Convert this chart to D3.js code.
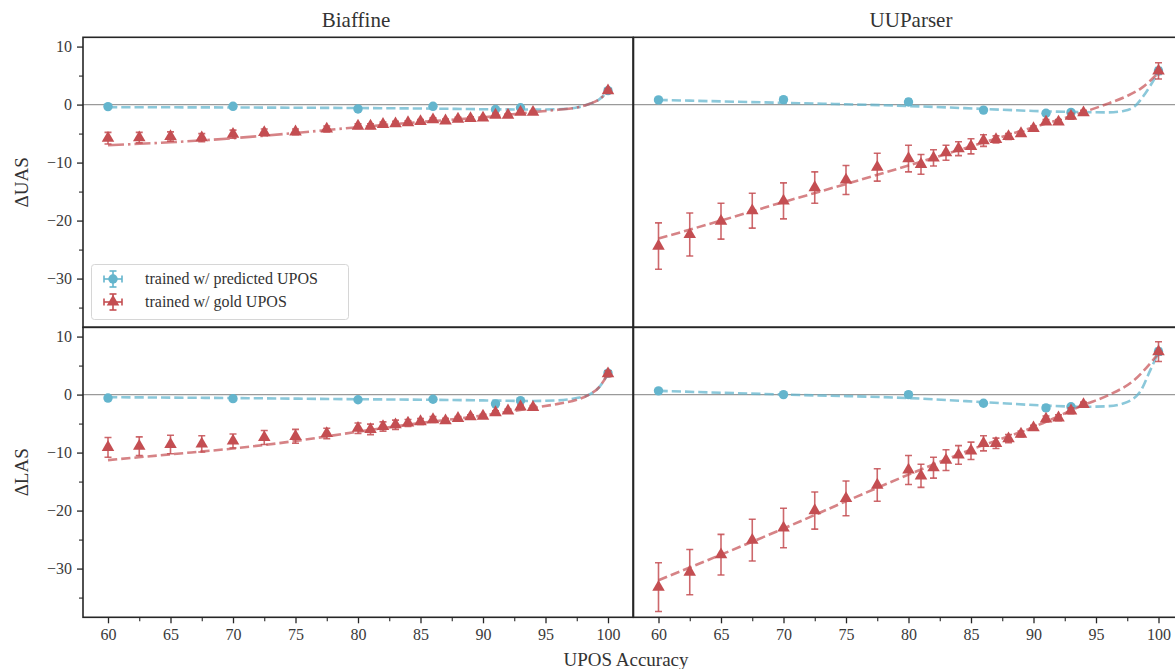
<!DOCTYPE html>
<html><head><meta charset="utf-8">
<script src="https://cdn.jsdelivr.net/npm/d3@7"></script>
<style>
html,body{margin:0;padding:0;background:#fff;}
svg{display:block;font-family:"Liberation Serif","DejaVu Serif",serif;}
</style></head>
<body><svg id="chart" width="1175" height="669"></svg>
<script>
// ---------------- data ----------------
const parsers = ["Biaffine", "UUParser"];
const metrics = ["ΔUAS", "ΔLAS"];
const xTicks = [60, 65, 70, 75, 80, 85, 90, 95, 100];
const yTicks = [10, 0, -10, -20, -30];

const xPred = [60, 70, 80, 86, 91, 93, 100];
const xGold = [60, 62.5, 65, 67.5, 70, 72.5, 75, 77.5, 80, 81, 82, 83, 84, 85, 86, 87, 88, 89, 90, 91, 92, 93, 94, 100];

// Biaffine UAS
const biaUasPred    = [-0.35, -0.3, -0.75, -0.3, -0.85, -0.55, 2.4];
const biaUasPredErr = [0.15, 0.15, 0.2, 0.15, 0.3, 0.2, 0.3];
const biaUasGold    = [-5.8, -5.7, -5.5, -5.7, -5.1, -4.8, -4.7, -4.2, -3.7, -3.7, -3.4, -3.3, -3.1, -2.9, -2.6, -2.8, -2.5, -2.4, -2.3, -1.8, -1.8, -1.3, -1.3, 2.4];
const biaUasGoldErr = [1.0, 0.9, 0.8, 0.7, 0.7, 0.6, 0.5, 0.5, 0.4, 0.4, 0.4, 0.4, 0.3, 0.3, 0.3, 0.3, 0.3, 0.3, 0.2, 0.3, 0.2, 0.2, 0.2, 0.3];
// UUParser UAS
const uuUasPred    = [0.8, 0.85, 0.45, -0.95, -1.5, -1.35, 5.8];
const uuUasPredErr = [0.2, 0.2, 0.5, 0.2, 0.3, 0.3, 0.6];
const uuUasGold    = [-24.4, -22.4, -20.1, -18.3, -16.6, -14.3, -13.0, -10.8, -9.3, -10.3, -9.2, -8.3, -7.6, -7.2, -6.2, -6.0, -5.5, -5.0, -4.1, -3.0, -3.0, -2.0, -1.4, 5.8];
const uuUasGoldErr = [4.0, 3.7, 3.1, 3.0, 3.1, 2.7, 2.5, 2.4, 2.3, 1.7, 1.4, 1.3, 1.2, 1.3, 1.0, 0.6, 0.5, 0.4, 0.4, 0.4, 0.4, 0.5, 0.4, 1.4];
// Biaffine LAS
const biaLasPred    = [-0.6, -0.7, -0.9, -0.8, -1.6, -1.05, 3.7];
const biaLasPredErr = [0.15, 0.15, 0.2, 0.15, 0.3, 0.2, 0.4];
const biaLasGold    = [-9.1, -8.9, -8.6, -8.5, -8.0, -7.4, -7.2, -6.7, -5.8, -6.0, -5.5, -5.2, -4.9, -4.65, -4.3, -4.5, -4.1, -3.8, -3.7, -3.1, -2.8, -2.1, -2.2, 3.6];
const biaLasGoldErr = [1.7, 1.6, 1.6, 1.4, 1.2, 1.2, 1.2, 0.9, 0.9, 0.9, 0.8, 0.8, 0.6, 0.5, 0.5, 0.4, 0.3, 0.3, 0.3, 0.3, 0.3, 0.3, 0.3, 0.5];
// UUParser LAS
const uuLasPred    = [0.64, 0.0, 0.0, -1.5, -2.3, -2.1, 7.4];
const uuLasPredErr = [0.2, 0.2, 0.5, 0.3, 0.3, 0.3, 0.6];
const uuLasGold    = [-33.2, -30.6, -27.6, -25.1, -23.0, -20.0, -17.9, -15.6, -13.0, -14.0, -12.6, -11.3, -10.4, -9.7, -8.4, -8.4, -7.6, -6.8, -5.7, -4.2, -4.0, -2.8, -1.7, 7.4];
const uuLasGoldErr = [4.2, 3.9, 3.5, 3.6, 3.4, 3.2, 3.0, 2.8, 2.5, 2.0, 1.8, 1.8, 1.6, 1.5, 1.3, 0.9, 0.7, 0.5, 0.4, 0.5, 0.5, 0.5, 0.4, 1.7];

// fitted trend curves
const biaUasFitPredX = [60, 70, 80, 86, 90, 94, 96, 97.5, 98.5, 99.3, 100];
const biaUasFitPredY = [-0.45, -0.5, -0.6, -0.7, -0.8, -0.85, -0.8, -0.5, 0.1, 0.9, 2.3];
const biaUasFitGoldX = [60, 65, 70, 75, 80, 85, 90, 94, 96, 97.5, 98.5, 99.3, 100];
const biaUasFitGoldY = [-7.0, -6.5, -5.8, -4.9, -3.9, -3.0, -2.2, -1.3, -0.9, -0.5, 0.1, 0.9, 2.3];
const uuUasFitPredX = [60, 65, 70, 75, 80, 86, 90, 94, 96, 97.2, 98.1, 98.9, 99.5, 100];
const uuUasFitPredY = [0.8, 0.55, 0.3, 0.05, -0.25, -0.75, -1.1, -1.3, -1.35, -1.1, -0.3, 1.8, 3.8, 5.7];
const uuUasFitGoldX = [60, 65, 70, 75, 80, 85, 90, 94, 96, 97.4, 98.6, 100];
const uuUasFitGoldY = [-23.1, -20.0, -16.8, -13.7, -10.5, -7.2, -3.9, -1.3, 0.2, 1.4, 2.8, 5.5];
const biaLasFitPredX = [60, 70, 80, 86, 90, 94, 96, 97.5, 98.5, 99.3, 100];
const biaLasFitPredY = [-0.45, -0.6, -0.8, -0.9, -1.0, -1.1, -1.0, -0.6, 0.0, 1.3, 3.6];
const biaLasFitGoldX = [60, 65, 70, 75, 80, 85, 90, 94, 96, 97.5, 98.5, 99.3, 100];
const biaLasFitGoldY = [-11.3, -10.3, -9.3, -8.0, -6.4, -4.9, -3.6, -2.3, -1.6, -0.9, 0.0, 1.3, 3.6];
const uuLasFitPredX = [60, 70, 80, 86, 91, 94, 96, 97.1, 98.5, 99.3, 100];
const uuLasFitPredY = [0.64, 0.0, -0.6, -1.3, -1.9, -2.1, -2.0, -1.6, 0.4, 4.0, 7.3];
const uuLasFitGoldX = [60, 65, 70, 75, 80, 85, 90, 94, 96, 98, 100];
const uuLasFitGoldY = [-32.0, -27.6, -23.1, -18.4, -13.8, -9.5, -5.6, -1.8, -0.1, 2.4, 7.1];

const legendLabels = ["trained w/ predicted UPOS", "trained w/ gold UPOS"];

// ---------------- layout ----------------
const BLUE = "#64B5CD", RED = "#C44E52";
const panels = [
  {row:0,col:0,pred:biaUasPred,predErr:biaUasPredErr,gold:biaUasGold,goldErr:biaUasGoldErr,
   fpx:biaUasFitPredX,fpy:biaUasFitPredY,fgx:biaUasFitGoldX,fgy:biaUasFitGoldY,goldDash:"16,4,2.5,4"},
  {row:0,col:1,pred:uuUasPred,predErr:uuUasPredErr,gold:uuUasGold,goldErr:uuUasGoldErr,
   fpx:uuUasFitPredX,fpy:uuUasFitPredY,fgx:uuUasFitGoldX,fgy:uuUasFitGoldY,goldDash:"9.25,4"},
  {row:1,col:0,pred:biaLasPred,predErr:biaLasPredErr,gold:biaLasGold,goldErr:biaLasGoldErr,
   fpx:biaLasFitPredX,fpy:biaLasFitPredY,fgx:biaLasFitGoldX,fgy:biaLasFitGoldY,goldDash:"9.25,4"},
  {row:1,col:1,pred:uuLasPred,predErr:uuLasPredErr,gold:uuLasGold,goldErr:uuLasGoldErr,
   fpx:uuLasFitPredX,fpy:uuLasFitPredY,fgx:uuLasFitGoldX,fgy:uuLasFitGoldY,goldDash:"9.25,4"}
];
const colX = [83, 633.5], panelW = 550;
const rowY = [37.3, 327.3], panelH = 290;
const titleX = [356, 911];

const svg = d3.select("#chart");
const xDomain = [58, 102], yDomain = [11.6, -38.4];

panels.forEach(p => {
  const x0 = colX[p.col], y0 = rowY[p.row];
  const x = d3.scaleLinear().domain(xDomain).range([x0, x0 + panelW]);
  const y = d3.scaleLinear().domain(yDomain).range([y0, y0 + panelH]);
  const g = svg.append("g");
  const clipId = "clip" + p.row + p.col;
  svg.append("clipPath").attr("id", clipId).append("rect")
    .attr("x", x0).attr("y", y0).attr("width", panelW).attr("height", panelH);
  const pg = g.append("g").attr("clip-path", `url(#${clipId})`);

  // zero line
  pg.append("line").attr("x1", x0).attr("x2", x0 + panelW)
    .attr("y1", y(0)).attr("y2", y(0)).attr("stroke", "#9a9a9a").attr("stroke-width", 1.2);

  const line = d3.line().x(d => x(d[0])).y(d => y(d[1])).curve(d3.curveMonotoneX);
  // fits
  pg.append("path").datum(d3.zip(p.fpx, p.fpy)).attr("d", line)
    .attr("fill", "none").attr("stroke", BLUE).attr("stroke-opacity", 0.75)
    .attr("stroke-width", 2.6).attr("stroke-dasharray", "9.25,4");
  pg.append("path").datum(d3.zip(p.fgx, p.fgy)).attr("d", line)
    .attr("fill", "none").attr("stroke", RED).attr("stroke-opacity", 0.7)
    .attr("stroke-width", 2.6).attr("stroke-dasharray", p.goldDash);

  // error bars + markers
  function drawSeries(xs, ys, es, color, shape) {
    const sg = pg.append("g");
    xs.forEach((xv, i) => {
      const cx = x(xv);
      const ylo = y(ys[i] - es[i]), yhi = y(ys[i] + es[i]);
      const eb = sg.append("g").attr("stroke", color).attr("stroke-width", 1.6).attr("stroke-opacity", 0.85);
      eb.append("line").attr("x1", cx).attr("x2", cx).attr("y1", ylo).attr("y2", yhi);
      eb.append("line").attr("x1", cx - 3.5).attr("x2", cx + 3.5).attr("y1", ylo).attr("y2", ylo);
      eb.append("line").attr("x1", cx - 3.5).attr("x2", cx + 3.5).attr("y1", yhi).attr("y2", yhi);
    });
    xs.forEach((xv, i) => {
      const cx = x(xv), cy = y(ys[i]);
      if (shape === "circle") {
        sg.append("circle").attr("cx", cx).attr("cy", cy).attr("r", 4.7).attr("fill", color);
      } else {
        sg.append("path").attr("d", d3.symbol(d3.symbolTriangle, 68)())
          .attr("transform", `translate(${cx},${cy})`).attr("fill", color);
      }
    });
  }
  drawSeries(xPred, p.pred, p.predErr, BLUE, "circle");
  drawSeries(xGold, p.gold, p.goldErr, RED, "triangle");

  // frame
  g.append("rect").attr("x", x0).attr("y", y0).attr("width", panelW).attr("height", panelH)
    .attr("fill", "none").attr("stroke", "#262626").attr("stroke-width", 1.6);

  // y axis on left panels
  if (p.col === 0) {
    const ya = d3.axisLeft(y).tickValues(yTicks).tickSize(6).tickPadding(5).tickFormat(d3.format("d"));
    const ag = g.append("g").attr("transform", `translate(${x0},0)`).call(ya);
    ag.select(".domain").remove();
    ag.selectAll(".tick line").attr("stroke", "#262626").attr("stroke-width", 1.3);
    ag.selectAll(".tick text").attr("font-size", 16).attr("fill", "#3a3a3a")
      .attr("font-family", "Liberation Serif, serif");
    const yminor = d3.axisLeft(y).tickValues([5, -5, -15, -25, -35]).tickSize(4).tickFormat("");
    const mg = g.append("g").attr("transform", `translate(${x0},0)`).call(yminor);
    mg.select(".domain").remove();
    mg.selectAll(".tick line").attr("stroke", "#262626").attr("stroke-width", 1.1);
  }
  // x axis on bottom panels
  if (p.row === 1) {
    const xa = d3.axisBottom(x).tickValues(xTicks).tickSize(6).tickPadding(5).tickFormat(d3.format("d"));
    const ag = g.append("g").attr("transform", `translate(0,${y0 + panelH})`).call(xa);
    ag.select(".domain").remove();
    ag.selectAll(".tick line").attr("stroke", "#262626").attr("stroke-width", 1.3);
    ag.selectAll(".tick text").attr("font-size", 16).attr("fill", "#3a3a3a")
      .attr("font-family", "Liberation Serif, serif");
    const xminor = d3.axisBottom(x).tickValues([62.5, 67.5, 72.5, 77.5, 82.5, 87.5, 92.5, 97.5]).tickSize(4).tickFormat("");
    const mg = g.append("g").attr("transform", `translate(0,${y0 + panelH})`).call(xminor);
    mg.select(".domain").remove();
    mg.selectAll(".tick line").attr("stroke", "#262626").attr("stroke-width", 1.1);
  }
  // titles
  if (p.row === 0) {
    svg.append("text").attr("x", titleX[p.col])
      .attr("y", 27).attr("text-anchor", "middle").attr("font-size", 21).attr("fill", "#333")
      .text(parsers[p.col]);
  }
  if (p.col === 0) {
    svg.append("text").attr("transform", `translate(28,${y0 + panelH / 2}) rotate(-90)`)
      .attr("text-anchor", "middle").attr("font-size", 19).attr("fill", "#333")
      .text(metrics[p.row]);
  }
});

// x label
svg.append("text").attr("x", 626).attr("y", 666).attr("text-anchor", "middle")
  .attr("font-size", 19).attr("fill", "#333").text("UPOS Accuracy");

// legend
const lg = svg.append("g");
lg.append("rect").attr("x", 91.5).attr("y", 264.5).attr("width", 257).attr("height", 55).attr("rx", 3)
  .attr("fill", "#fff").attr("fill-opacity", 0.85).attr("stroke", "#d6d6d6").attr("stroke-width", 1);
[[BLUE, "circle"], [RED, "triangle"]].forEach((d, i) => {
  const cx = 113, cy = 279 + i * 23;
  const eg = lg.append("g").attr("stroke", d[0]).attr("stroke-width", 1.6);
  eg.append("line").attr("x1", cx - 9).attr("x2", cx + 9).attr("y1", cy).attr("y2", cy);
  eg.append("line").attr("x1", cx).attr("x2", cx).attr("y1", cy - 8).attr("y2", cy + 8);
  eg.append("line").attr("x1", cx - 9).attr("x2", cx - 9).attr("y1", cy - 3.5).attr("y2", cy + 3.5);
  eg.append("line").attr("x1", cx + 9).attr("x2", cx + 9).attr("y1", cy - 3.5).attr("y2", cy + 3.5);
  eg.append("line").attr("x1", cx - 3.5).attr("x2", cx + 3.5).attr("y1", cy - 8).attr("y2", cy - 8);
  eg.append("line").attr("x1", cx - 3.5).attr("x2", cx + 3.5).attr("y1", cy + 8).attr("y2", cy + 8);
  if (d[1] === "circle") lg.append("circle").attr("cx", cx).attr("cy", cy).attr("r", 4.7).attr("fill", d[0]);
  else lg.append("path").attr("d", d3.symbol(d3.symbolTriangle, 68)()).attr("transform", `translate(${cx},${cy})`).attr("fill", d[0]);
  lg.append("text").attr("x", 145).attr("y", cy + 5).attr("font-size", 16).attr("fill", "#333")
    .text(legendLabels[i]);
});
</script></body></html>
